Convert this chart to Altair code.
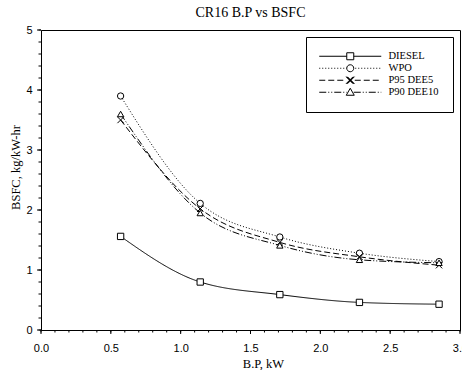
import altair as alt
import pandas as pd

# ---- data ----
bp = [0.57, 1.14, 1.71, 2.28, 2.85]
diesel = [1.56, 0.80, 0.59, 0.46, 0.43]
wpo = [3.90, 2.11, 1.55, 1.28, 1.14]
p95_dee5 = [3.50, 2.02, 1.46, 1.22, 1.08]
p90_dee10 = [3.60, 1.95, 1.41, 1.17, 1.12]
series = ["DIESEL", "WPO", "P95 DEE5", "P90 DEE10"]
x_major_ticks = [0.0, 0.5, 1.0, 1.5, 2.0, 2.5, 3.0]
x_minor_ticks = [round(i * 0.1, 1) for i in range(31)]
y_major_ticks = [0, 1, 2, 3, 4, 5]
y_minor_ticks = [round(i * 0.2, 1) for i in range(26)]

values = {"DIESEL": diesel, "WPO": wpo, "P95 DEE5": p95_dee5, "P90 DEE10": p90_dee10}
rows = []
for s in series:
    for xv, yv in zip(bp, values[s]):
        rows.append({"bp": xv, "bsfc": yv, "series": s})
df = pd.DataFrame(rows)

W, H = 419, 300

# ---- legend symbol paths (line style + marker), 1 unit = 1 px at size 4 ----
def segs(start, end, pattern):
    out, x, i = [], start, 0
    while x < end:
        L = pattern[i % len(pattern)]
        if i % 2 == 0:
            out.append(f"M{x:.2f},0H{min(x + L, end):.2f}")
        x += L
        i += 1
    return "".join(out)

L0, L1, R0, R1 = -6, 21.5, 28.5, 56
sq = "M21.5,-3.5H28.5V3.5H21.5Z"
circ = "M28.5,0A3.5,3.5,0,1,1,21.5,0A3.5,3.5,0,1,1,28.5,0Z"
xmark = "".join(
    f"M{21.5 + d},-3.5L{28.5 + d},3.5M{21.5 + d},3.5L{28.5 + d},-3.5" for d in (-0.7, 0, 0.7)
)
tri = "M25,-4L29,3L21,3Z"
legend_paths = [
    segs(L0, L1, [100, 0]) + segs(R0, R1, [100, 0]) + sq,
    segs(L0, L1, [1, 2]) + segs(R0 + 1.5, R1, [1, 2]) + circ,
    segs(L0, L1 - 1, [6, 3]) + segs(R0 + 1, R1, [6, 3]) + xmark,
    segs(L0, L1, [7, 2, 1, 2, 1, 2]) + segs(R0, R1, [7, 2, 1, 2, 1, 2]) + tri,
]

x_scale = alt.Scale(domain=[0, 3], nice=False, zero=False)
y_scale = alt.Scale(domain=[0, 5], nice=False)

x_axis = alt.Axis(
    title="B.P, kW",
    orient="bottom",
    values=x_major_ticks,
    format=".1f",
    ticks=False,
    grid=False,
    labelOverlap=False,
    labelFlush=False,
    labelBound=False,
    labelPadding=12,
    titleX=222,
    titleY=37,
    titleBaseline="alphabetic",
)
y_axis = alt.Axis(
    title="BSFC, kg/kW-hr",
    orient="left",
    values=y_major_ticks,
    format="d",
    ticks=False,
    grid=False,
    labelOverlap=False,
    labelPadding=9,
    titleX=-26,
    titleY=137,
    titleBaseline="middle",
)

x_enc = alt.X("bp:Q", scale=x_scale, axis=x_axis)
y_enc = alt.Y("bsfc:Q", scale=y_scale, axis=y_axis)

lines = alt.Chart(df).mark_line(interpolate="monotone", color="black", strokeWidth=1).encode(
    x=x_enc,
    y=y_enc,
    strokeDash=alt.StrokeDash(
        "series:N",
        scale=alt.Scale(domain=series, range=[[1, 0], [1, 2], [6, 3], [7, 2, 1, 2, 1, 2]]),
        legend=None,
    ),
    detail="series:N",
)

points = alt.Chart(df).mark_point(filled=True, fill="white", stroke="black", opacity=1, size=40).encode(
    x=x_enc,
    y=y_enc,
    shape=alt.Shape(
        "series:N",
        scale=alt.Scale(domain=series, range=["square", "circle", "M-1,-1L1,1M-1,1L1,-1", "triangle-up"]),
        legend=None,
    ),
    strokeWidth=alt.StrokeWidth(
        "series:N", scale=alt.Scale(domain=series, range=[1, 1, 2.4, 1]), legend=None
    ),
)

legend_layer = (
    alt.Chart(df)
    .mark_point(filled=False, color="black", strokeWidth=1, opacity=1)
    .encode(
        x=x_enc,
        y=y_enc,
        shape=alt.Shape(
            "series:N",
            scale=alt.Scale(domain=series, range=legend_paths),
            legend=alt.Legend(
                title=None,
                orient="none",
                legendX=265,
                legendY=7,
                padding=14,
                strokeColor="black",
                fillColor="white",
                symbolSize=4,
                symbolStrokeWidth=1,
                symbolStrokeColor="black",
                symbolOpacity=1,
                labelFont="Liberation Serif",
                labelFontSize=10.5,
                labelFontWeight="normal",
                labelColor="black",
                labelOffset=58,
                rowPadding=0,
            ),
        ),
    )
    .transform_filter("datum.bp > 100")
)

# axis tick marks (major and minor), drawn outward from the axis lines
def x_ticks(vals, length):
    return alt.Chart(pd.DataFrame({"t": vals})).mark_rule(color="black", strokeWidth=1).encode(
        x=alt.X("t:Q", scale=x_scale, axis=x_axis),
        y=alt.value(H),
        y2=alt.value(H + length),
    )

def y_ticks(vals, length):
    return alt.Chart(pd.DataFrame({"t": vals})).mark_rule(color="black", strokeWidth=1).encode(
        y=alt.Y("t:Q", scale=y_scale, axis=y_axis),
        x=alt.value(0),
        x2=alt.value(-length),
    )

chart = (
    alt.layer(
        lines, points, legend_layer,
        x_ticks(x_minor_ticks, 2.5), x_ticks(x_major_ticks, 4),
        y_ticks(y_minor_ticks, 2.5), y_ticks(y_major_ticks, 4),
    )
    .resolve_scale(shape="independent")
    .properties(
        width=W,
        height=H,
        title=alt.TitleParams(
            "CR16 B.P vs BSFC",
            font="Liberation Serif",
            fontSize=14,
            fontWeight="normal",
            color="black",
            anchor="middle",
            offset=4,
        ),
        autosize=alt.AutoSizeParams(type="none"),
        padding={"left": 41, "top": 30, "right": 2, "bottom": 40},
    )
    .configure_view(stroke="black", strokeWidth=1)
    .configure_axis(
        grid=False,
        domainColor="black",
        labelFont="Liberation Sans",
        labelFontSize=11,
        labelColor="black",
        titleFont="Liberation Serif",
        titleFontSize=12.5,
        titleFontWeight="normal",
        titleColor="black",
    )
)

chart.save("out.html", embed_options={"renderer": "svg", "actions": False})
